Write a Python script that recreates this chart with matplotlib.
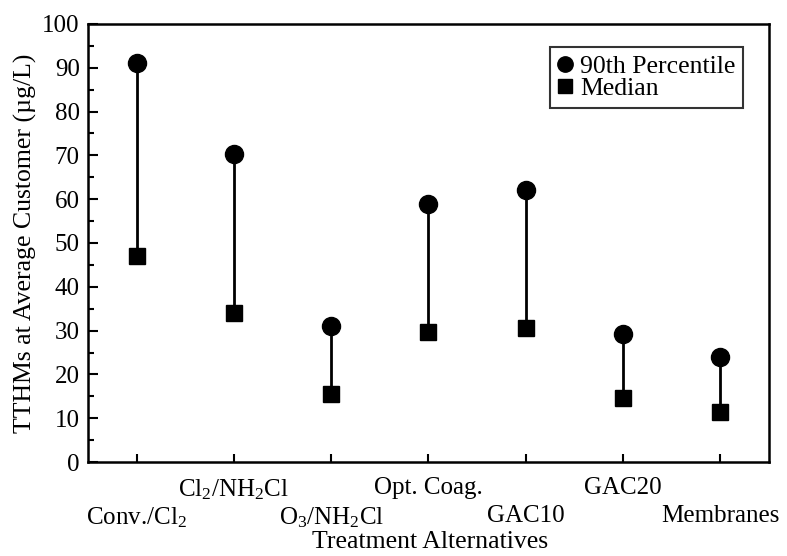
import numpy as np
import matplotlib.pyplot as plt
from matplotlib.ticker import MultipleLocator

plt.rcParams['font.family'] = 'Liberation Serif'
plt.rcParams['mathtext.fontset'] = 'custom'
plt.rcParams['mathtext.rm'] = 'Liberation Serif'
plt.rcParams['mathtext.it'] = 'Liberation Serif:italic'

# donnees
traitements = [r'Conv./Cl$_2$', r'Cl$_2$/NH$_2$Cl', r'O$_3$/NH$_2$Cl',
               'Opt. Coag.', 'GAC10', 'GAC20', 'Membranes']
p90 = [91, 70.3, 31, 59, 62, 29.2, 24]
mediane = [47, 34, 15.5, 29.6, 30.7, 14.6, 11.5]

x = np.arange(len(traitements))

fig = plt.figure(figsize=(7.87, 5.56), dpi=100)
ax = fig.add_axes([0.1118, 0.169, 0.8653, 0.788])

ax.vlines(x, mediane, p90, colors='k', lw=2)
ax.plot(x, p90, 'o', color='k', ms=13, label='90th Percentile')
ax.plot(x, mediane, 's', color='k', ms=12, label='Median')

ax.set_xlim(-0.5, 6.5)
ax.set_ylim(0, 100)
ax.yaxis.set_major_locator(MultipleLocator(10))
ax.yaxis.set_minor_locator(MultipleLocator(5))
ax.set_xticks(x)
ax.set_xticklabels(traitements)
ax.tick_params(axis='both', which='both', direction='in', width=1.5)
ax.tick_params(axis='y', which='major', length=7, pad=6, labelsize=18)
ax.tick_params(axis='y', which='minor', length=4)
ax.tick_params(axis='x', length=6, pad=11, labelsize=18)
# etiquettes en quinconce
for tick in ax.xaxis.get_major_ticks()[::2]:
    tick.set_pad(31)

for s in ax.spines.values():
    s.set_linewidth(1.8)

fig.text(430 / 787, 1 - 542 / 556, 'Treatment Alternatives', fontsize=18.5,
         ha='center', va='center')
ax.set_ylabel('TTHMs at Average Customer (µg/L)', fontsize=18.5, labelpad=4)

leg = ax.legend(loc='upper right', bbox_to_anchor=(0.962, 0.947), fontsize=18.5,
                frameon=True, fancybox=False, edgecolor='k', handlelength=0.5,
                handletextpad=0.35, borderpad=0.3, labelspacing=-0.03,
                borderaxespad=0, markerscale=0.85)
leg.get_frame().set_linewidth(1.5)

plt.savefig('out.png', dpi=100)
